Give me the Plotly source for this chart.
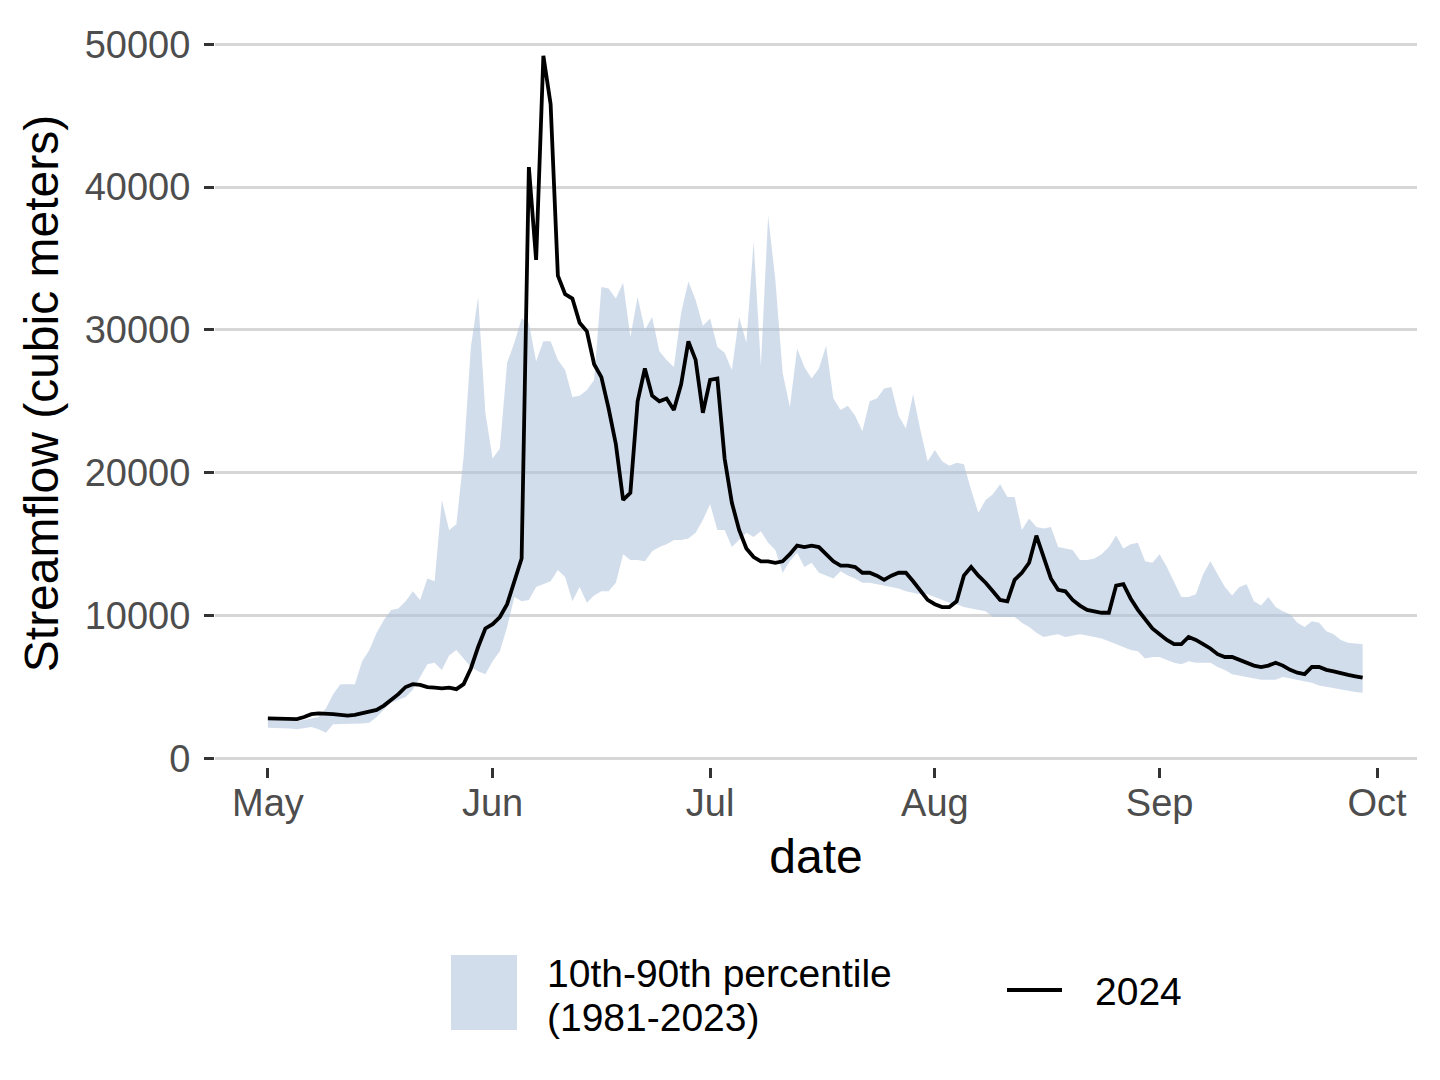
import pandas as pd
import plotly.graph_objects as go

start_date = "2024-05-01"
n_days = 152

flow_2024 = [
    2800, 2800, 2780, 2770, 2750, 2900, 3100, 3150, 3150, 3100,
    3050, 3000, 3050, 3150, 3250, 3400, 3700, 4100, 4500, 5000,
    5200, 5150, 5000, 4950, 4900, 4950, 4850, 5200, 6300, 7800,
    9100, 9400, 9900, 10800, 12500, 14000, 41400, 34900, 49200, 45800,
    33800, 32500, 32200, 30500, 29900, 27600, 26700, 24500, 22000, 18100,
    18600, 25000, 27300, 25400, 25000, 25200, 24400, 26200, 29200, 27900,
    24200, 26500, 26600, 21000, 17900, 16000, 14700, 14100, 13800, 13800,
    13700, 13800, 14300, 14900, 14800, 14900, 14800, 14300, 13800, 13500,
    13500, 13400, 13000, 13000, 12800, 12500, 12800, 13000, 13000, 12400,
    11700, 11100, 10800, 10600, 10600, 11000, 12800, 13400, 12800, 12300,
    11700, 11100, 11000, 12500, 13000, 13700, 15600, 14000, 12600, 11800,
    11700, 11100, 10700, 10400, 10300, 10200, 10200, 12100, 12200, 11200,
    10400, 9700, 9100, 8700, 8300, 8000, 8000, 8500, 8300, 8000,
    7700, 7300, 7100, 7100, 6900, 6700, 6500, 6400, 6500, 6700,
    6500, 6200, 6000, 5900, 6400, 6400, 6200, 6100, 5950, 5850,
    5750, 5650,
]

p10 = [
    2150, 2150, 2150, 2100, 2050, 2150, 2200, 2050, 1800, 2400,
    2400, 2450, 2450, 2450, 2500, 2900, 3400, 3900, 4100, 4300,
    4800, 5700, 6600, 6700, 6200, 7200, 7600, 7000, 6400, 6100,
    5900, 6800, 7500, 9200, 11300, 11000, 11100, 12000, 12200, 12400,
    13200, 12700, 11000, 12000, 10900, 11400, 11700, 11700, 12300, 14300,
    13900, 13900, 13800, 14500, 14800, 15000, 15300, 15300, 15400, 15800,
    16700, 17800, 16000, 16000, 14800, 15300, 15800, 15500, 15900, 15100,
    14600, 13000, 13800, 14400, 13400, 13700, 13000, 12800, 12600, 13100,
    12800, 12600, 12300, 12300, 12200, 12100, 12000, 11900, 11700, 11600,
    11500, 11500, 11300, 11100, 10900, 10800, 10600, 10500, 10400, 10300,
    9900, 9900, 9900, 9900, 9500, 9200, 8800, 8500, 8600, 8700,
    8500, 8600, 8700, 8600, 8500, 8400, 8200, 8000, 7800, 7600,
    7500, 7000, 7100, 7100, 6900, 6700, 6600, 6800, 6700, 6700,
    6700, 6400, 6200, 5900, 5800, 5700, 5600, 5500, 5500, 5500,
    5700, 5600, 5500, 5400, 5300, 5100, 5000, 4900, 4800, 4700,
    4650, 4600,
]

p90 = [
    2700, 2700, 2650, 2650, 2600, 2700, 2800, 2900, 3500, 4500,
    5200, 5200, 5200, 6800, 7600, 8800, 9700, 10400, 10500, 11000,
    11700, 11100, 12600, 12400, 18100, 16000, 16400, 21100, 28800, 32300,
    24200, 21000, 21700, 27700, 29100, 30800, 30500, 27800, 29200, 29200,
    27900, 27200, 25300, 25400, 25800, 26500, 33000, 32900, 32200, 33300,
    29500, 32300, 30000, 30900, 28500, 27900, 27400, 31200, 33400, 32100,
    30300, 30800, 28800, 28400, 27200, 30900, 29100, 36200, 27500, 38000,
    33500, 27000, 24600, 28700, 27400, 26600, 27300, 28900, 25200, 24400,
    24700, 24000, 22900, 25000, 25200, 25900, 26000, 24000, 23100, 25500,
    23000, 20800, 21600, 20800, 20500, 20700, 20600, 18800, 17200, 18100,
    18500, 19200, 18300, 18300, 16000, 16800, 16200, 16100, 16200, 14800,
    14700, 14600, 13900, 13900, 14000, 14300, 14800, 15600, 14700, 15000,
    15100, 13800, 13700, 14300, 13400, 12300, 11300, 11300, 11500, 12900,
    13800, 12900, 12000, 11400, 12000, 12200, 11000, 10700, 11300, 10600,
    10300, 10100, 9500, 9200, 9600, 9500, 8900, 8700, 8300, 8100,
    8050, 8000,
]

y_ticks = [0, 10000, 20000, 30000, 40000, 50000]
x_tick_dates = ["2024-05-01", "2024-06-01", "2024-07-01", "2024-08-01", "2024-09-01", "2024-10-01"]
x_tick_labels = ["May", "Jun", "Jul", "Aug", "Sep", "Oct"]
band_label_lines = ["10th-90th percentile", "(1981-2023)"]
line_label = "2024"

dates = pd.date_range(start_date, periods=n_days, freq="D")

FONT = "Liberation Sans, Arial, sans-serif"
band_color = "rgba(176,196,222,0.57)"

# plot-area geometry in pixels (used only to place the hand-built legend)
L, R, T, B = 215, 23, 20, 313
W, H = 1440, 1080
pw, ph = W - L - R, H - T - B


def px_x(px):
    return (px - L) / pw


def px_y(py):
    return (H - B - py) / ph


fig = go.Figure()
fig.add_trace(go.Scatter(
    x=dates, y=p10, mode="lines", line=dict(width=0, color=band_color),
    showlegend=False, hoverinfo="skip",
))
fig.add_trace(go.Scatter(
    x=dates, y=p90, mode="lines", line=dict(width=0, color=band_color),
    fill="tonexty", fillcolor=band_color, showlegend=False,
    name=" ".join(band_label_lines),
))
fig.add_trace(go.Scatter(
    x=dates, y=flow_2024, mode="lines", line=dict(width=3.8, color="black"),
    name=line_label, showlegend=False,
))

# legend (ggplot-style, below the plot)
fig.add_shape(type="rect", xref="paper", yref="paper",
              x0=px_x(451), x1=px_x(517), y0=px_y(1030), y1=px_y(955),
              fillcolor=band_color, line=dict(width=0))
fig.add_shape(type="line", xref="paper", yref="paper",
              x0=px_x(1007), x1=px_x(1062), y0=px_y(990), y1=px_y(990),
              line=dict(width=3.8, color="black"))
fig.add_annotation(xref="paper", yref="paper", x=px_x(545), y=px_y(974),
                   text=band_label_lines[0], showarrow=False,
                   xanchor="left", yanchor="middle",
                   font=dict(size=39, color="black", family=FONT))
fig.add_annotation(xref="paper", yref="paper", x=px_x(545), y=px_y(1017),
                   text=band_label_lines[1], showarrow=False,
                   xanchor="left", yanchor="middle",
                   font=dict(size=39, color="black", family=FONT))
fig.add_annotation(xref="paper", yref="paper", x=px_x(1093), y=px_y(991),
                   text=line_label, showarrow=False,
                   xanchor="left", yanchor="middle",
                   font=dict(size=39, color="black", family=FONT))

fig.update_layout(
    width=W, height=H,
    margin=dict(l=L, r=R, t=T, b=B),
    paper_bgcolor="white", plot_bgcolor="white",
    font=dict(family=FONT, color="black"),
    showlegend=False,
)
fig.update_xaxes(
    range=["2024-04-23 17:00", "2024-10-06 12:00"],
    tickvals=pd.to_datetime(x_tick_dates), ticktext=x_tick_labels,
    showgrid=False, zeroline=False, showline=False,
    ticks="outside", ticklen=10, tickwidth=3, tickcolor="#333333",
    ticklabelstandoff=-8,
    tickfont=dict(size=38, color="#4d4d4d", family=FONT),
    title=dict(text="date", font=dict(size=48, color="black", family=FONT), standoff=16),
)
fig.update_yaxes(
    range=[-600, 51700],
    tickvals=y_ticks, ticktext=[str(v) for v in y_ticks],
    showgrid=True, gridcolor="#d6d6d6", gridwidth=3, zeroline=False, showline=False,
    ticks="outside", ticklen=10, tickwidth=3, tickcolor="#333333",
    ticklabelstandoff=6,
    tickfont=dict(size=38, color="#4d4d4d", family=FONT),
    title=dict(text="Streamflow (cubic meters)", font=dict(size=48, color="black", family=FONT), standoff=10),
)

fig.write_html("out.html")
